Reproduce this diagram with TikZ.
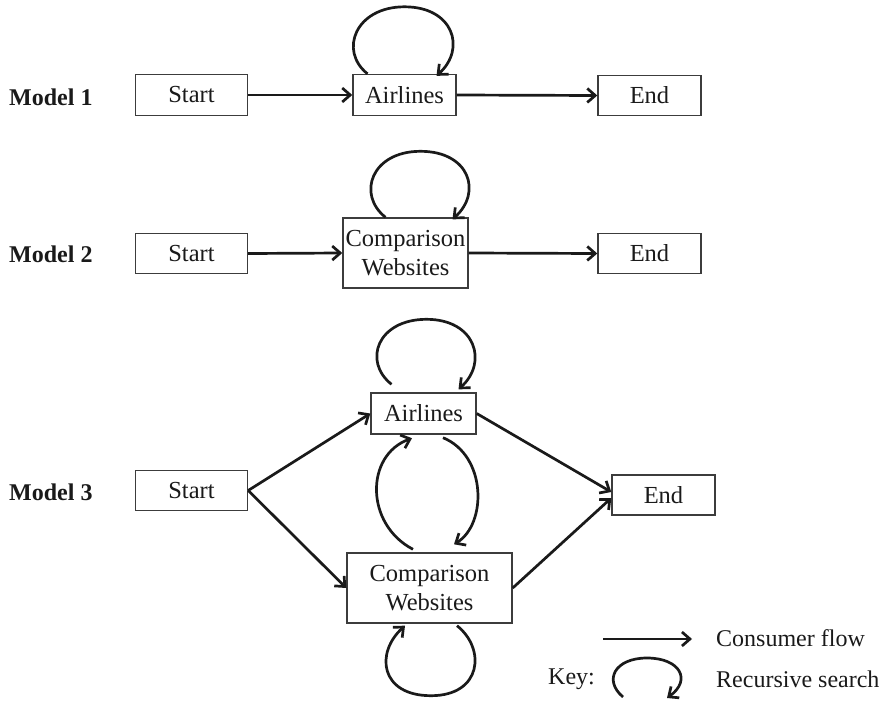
\documentclass[tikz,border=0pt]{standalone}
\usepackage{fontspec}
\setmainfont{Liberation Serif}
\usetikzlibrary{arrows.meta,calc}
\definecolor{ink}{HTML}{1A1A1A}
\begin{document}
\begin{tikzpicture}[x=1pt,y=-1pt,
  box/.style={draw=ink!85, line width=1.4pt, inner sep=0pt, font=\fontsize{24.5}{29}\selectfont, align=center, text=ink},
  lbl/.style={anchor=west, font=\fontsize{24}{29}\selectfont\bfseries, text=ink, inner sep=0pt},
  keytext/.style={anchor=west, font=\fontsize{24}{29}\selectfont, text=ink, inner sep=0pt},
  flow/.style={draw=ink, line width=2.7pt, -{Straight Barb[length=8pt,width=14pt]}},
]
\useasboundingbox (0,0) rectangle (889,701);

% Model labels
\node[lbl] (m1) at (9,97) {Model 1};
\node[lbl] (m2) at (9,254) {Model 2};
\node[lbl] (m3) at (9,492) {Model 3};

% Model 1
\node[box, minimum width=112pt, minimum height=41pt] (s1) at (191.5,95) {Start};
\node[box, minimum width=103pt, minimum height=41pt] (a1) at (404.5,95) {Airlines};
\node[box, minimum width=103pt, minimum height=40pt] (e1) at (649.5,95.5) {End};
\draw[flow] (s1.east) -- (a1.west);
\draw[flow] (a1.east) -- (e1.west);
\draw[flow] ($(a1.north)+(-37,0)$) .. controls +(-29,-23) and +(-49,0) .. ($(a1.north)+(0,-67)$)
            .. controls +(49,0) and +(30,-27) .. ($(a1.north)+(32,2)$);

% Model 2
\node[box, minimum width=112pt, minimum height=40pt] (s2) at (191.5,253.5) {Start};
\node[box, minimum width=125pt, minimum height=70pt] (c2) at (405.5,253) {Comparison\\Websites};
\node[box, minimum width=103pt, minimum height=40pt] (e2) at (649.5,253.5) {End};
\draw[flow] (s2.east) -- (c2.west);
\draw[flow] (c2.east) -- (e2.west);
\draw[flow] ($(c2.north)+(-20,0)$) .. controls +(-29,-23) and +(-49,0) .. ($(c2.north)+(15,-66)$)
            .. controls +(49,0) and +(30,-27) .. ($(c2.north)+(47,2)$);

% Model 3
\node[box, minimum width=112pt, minimum height=40pt] (s3) at (191.5,490.5) {Start};
\node[box, minimum width=105pt, minimum height=41pt] (a3) at (423.5,413.5) {Airlines};
\node[box, minimum width=165pt, minimum height=70pt] (c3) at (429.5,588) {Comparison\\Websites};
\node[box, minimum width=103pt, minimum height=40pt] (e3) at (663.5,495) {End};
\draw[flow] (s3.east) -- (a3.west);
\draw[flow] (s3.east) -- (c3.west);
\draw[flow] (a3.east) -- ($(e3.west)+(0,-3)$);
\draw[flow] (c3.east) -- ($(e3.west)+(0,3)$);
% loop above airlines
\draw[flow] ($(a3.north)+(-32,-8)$) .. controls +(-29,-23) and +(-49,0) .. ($(a3.north)+(3,-73)$)
            .. controls +(49,0) and +(30,-27) .. ($(a3.north)+(35,-3)$);
% loop below comparison
\draw[flow] ($(c3.south)+(27.5,2)$) .. controls +(29,23) and +(51,0) .. ($(c3.south)+(1.5,72)$)
            .. controls +(-51,0) and +(-30,27) .. ($(c3.south)+(-24.5,2)$);
% arcs between airlines and comparison
\draw[flow] ($(c3.north)+(-16.5,-3)$) .. controls +(-48,-25) and +(-47,17) .. ($(a3.south)+(-11.5,3.5)$);
\draw[flow] ($(a3.south)+(19.5,3)$) .. controls +(44,18) and +(33,-20) .. ($(c3.north)+(24.5,-8)$);

% Key
\coordinate (k1) at (603,639);
\coordinate (k2) at (692,639);
\draw[flow] (k1) -- (k2);
\node[keytext] (kc) at (716,638) {Consumer flow};
\node[keytext] (kk) at (548,679) {Key:};
\node[keytext] (kr) at (716,679) {Recursive search};
\coordinate (l1) at (623,697);
\coordinate (l2) at (647,658);
\coordinate (l3) at (667,698);
\draw[flow] (l1) .. controls +(-20,-17) and +(-32,0) .. (l2)
            .. controls +(33,0) and +(25,-18) .. (l3);
\end{tikzpicture}
\end{document}
